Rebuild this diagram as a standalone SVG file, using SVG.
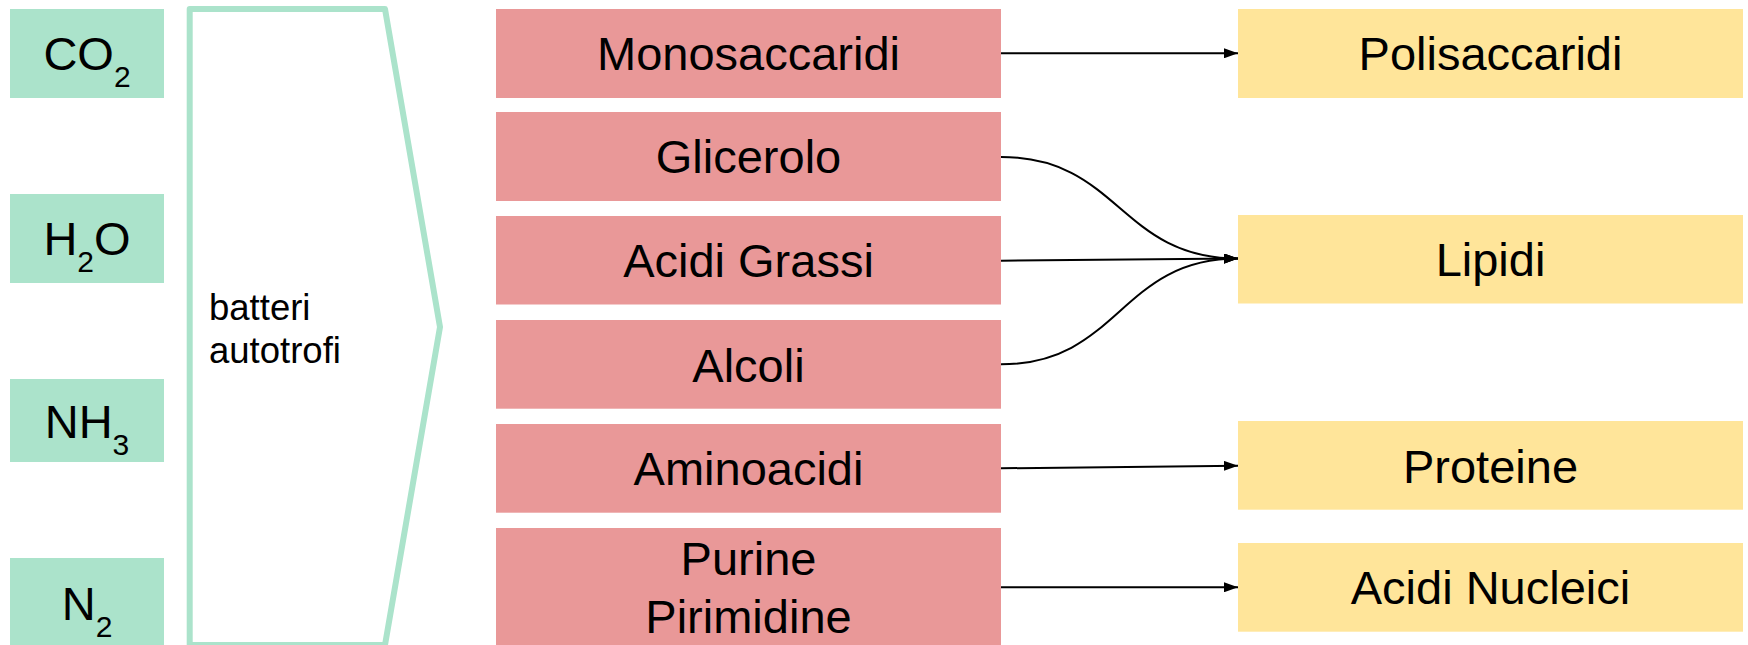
<svg xmlns="http://www.w3.org/2000/svg" width="1748" height="645" viewBox="0 0 1748 645">
<style>
.in{fill:#abe3cb}
.mid{fill:#e99898}
.out{fill:#ffe59a}
text{font-family:"Liberation Sans",Arial,sans-serif;fill:#000}
.lbl{font-size:47px;text-anchor:middle}
.sub{font-size:30px}
.small{font-size:36.5px}
.cn{fill:none;stroke:#000;stroke-width:2}
</style>
<defs>
<marker id="ah" markerWidth="7" markerHeight="5" refX="7" refY="2.5" orient="auto" markerUnits="strokeWidth">
<path d="M0,0 L7,2.5 L0,5 Z" fill="#000"/>
</marker>
</defs>
<g id="co2"><rect class="in" x="10" y="9" width="154" height="89"/><text class="lbl" x="87" y="70">CO<tspan class="sub" dy="17">2</tspan></text></g>
<g id="h2o"><rect class="in" x="10" y="194" width="154" height="89"/><text class="lbl" x="87" y="255">H<tspan class="sub" dy="17">2</tspan><tspan dy="-17">O</tspan></text></g>
<g id="nh3"><rect class="in" x="10" y="379" width="154" height="83"/><text class="lbl" x="87" y="438">NH<tspan class="sub" dy="17">3</tspan></text></g>
<g id="n2"><rect class="in" x="10" y="558" width="154" height="87"/><text class="lbl" x="87" y="620">N<tspan class="sub" dy="17">2</tspan></text></g>
<g id="batteri">
<polygon points="189.7,9 385,9 440,327 385,645 189.7,645" fill="#fff" stroke="#abe3cb" stroke-width="6" stroke-linejoin="round"/>
<text class="small" x="209" y="320">batteri</text>
<text class="small" x="209" y="363">autotrofi</text>
</g>
<g id="monosaccaridi"><rect class="mid" x="496" y="9" width="505" height="89"/><text class="lbl" x="748.5" y="70">Monosaccaridi</text></g>
<g id="glicerolo"><rect class="mid" x="496" y="112" width="505" height="89"/><text class="lbl" x="748.5" y="173.3">Glicerolo</text></g>
<g id="acidigrassi"><rect class="mid" x="496" y="216" width="505" height="88.5"/><text class="lbl" x="748.5" y="276.7">Acidi Grassi</text></g>
<g id="alcoli"><rect class="mid" x="496" y="320" width="505" height="88.7"/><text class="lbl" x="748.5" y="381.5">Alcoli</text></g>
<g id="aminoacidi"><rect class="mid" x="496" y="424" width="505" height="88.7"/><text class="lbl" x="748.5" y="485">Aminoacidi</text></g>
<g id="purine"><rect class="mid" x="496" y="528" width="505" height="117"/><text class="lbl" x="748.5" y="575">Purine</text><text class="lbl" x="748.5" y="633.3">Pirimidine</text></g>
<g id="polisaccaridi"><rect class="out" x="1238" y="9" width="505" height="89"/><text class="lbl" x="1490.5" y="70">Polisaccaridi</text></g>
<g id="lipidi"><rect class="out" x="1238" y="215" width="505" height="88.5"/><text class="lbl" x="1490.5" y="275.5">Lipidi</text></g>
<g id="proteine"><rect class="out" x="1238" y="421" width="505" height="88.7"/><text class="lbl" x="1490.5" y="482.5">Proteine</text></g>
<g id="acidinucleici"><rect class="out" x="1238" y="543" width="505" height="88.7"/><text class="lbl" x="1490.5" y="604">Acidi Nucleici</text></g>
<g id="connectors">
<path class="cn" d="M1001,53.3 L1238,53.3" marker-end="url(#ah)"/>
<path class="cn" d="M1001,157 C1119.5,157 1119.5,258.5 1238,258.5" marker-end="url(#ah)"/>
<path class="cn" d="M1001,260.7 L1238,258.5" marker-end="url(#ah)"/>
<path class="cn" d="M1001,364.3 C1119.5,364.3 1119.5,258.5 1238,258.5" marker-end="url(#ah)"/>
<path class="cn" d="M1001,468.3 L1238,465.7" marker-end="url(#ah)"/>
<path class="cn" d="M1001,587.3 L1238,587.3" marker-end="url(#ah)"/>
</g>
</svg>
